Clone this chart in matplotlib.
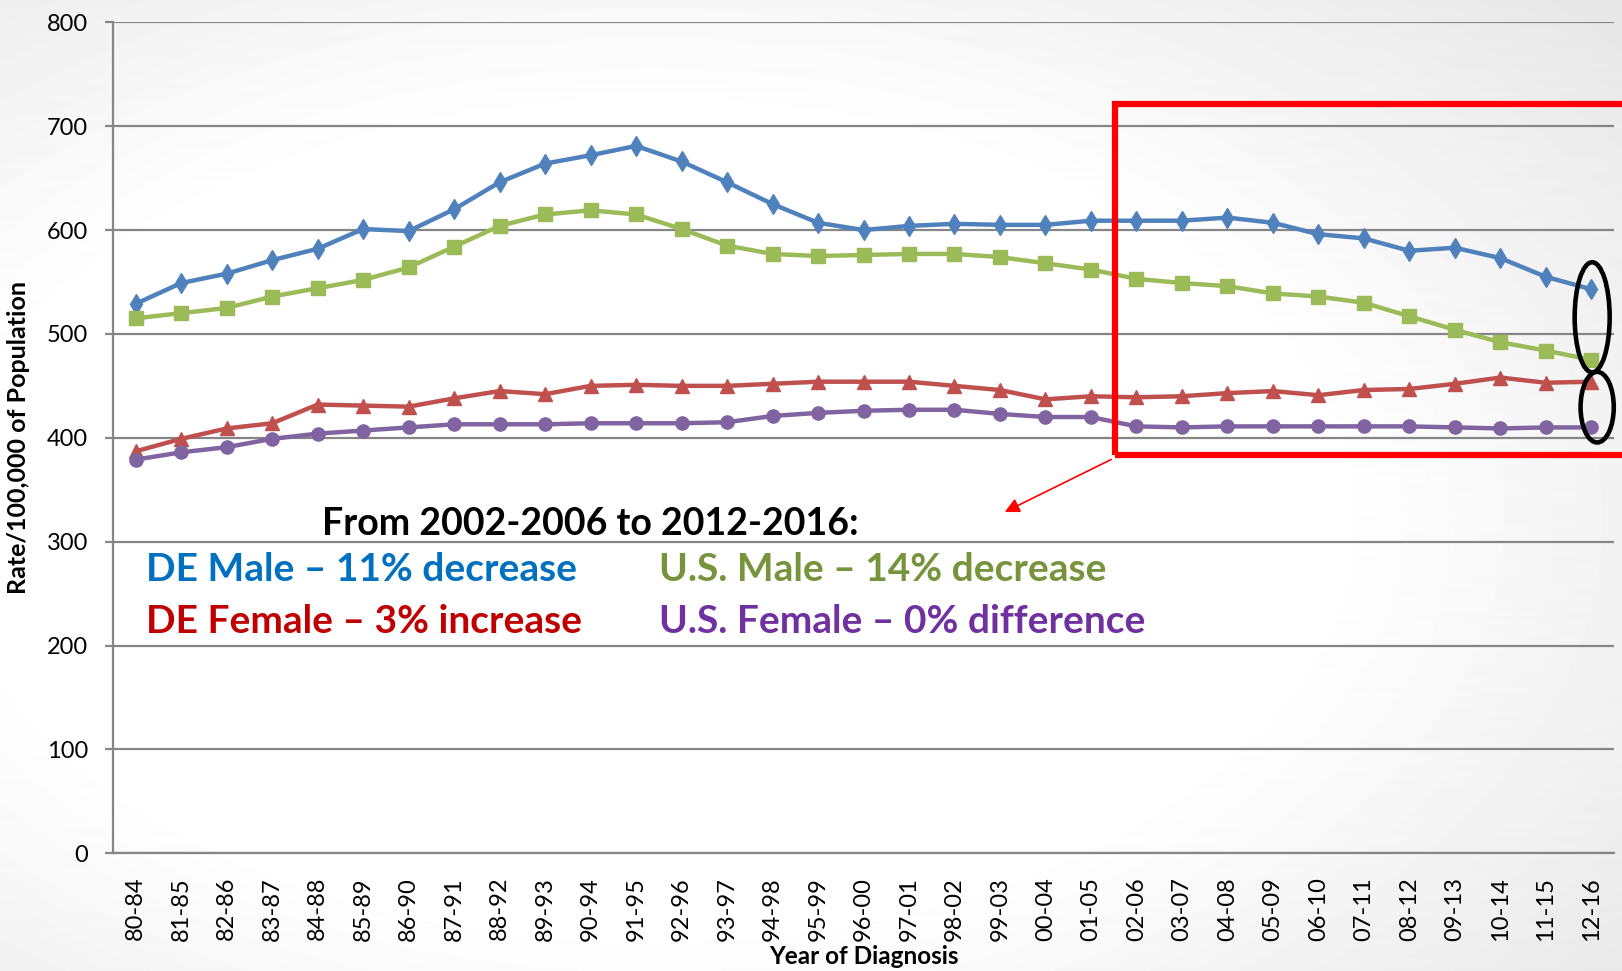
import matplotlib.pyplot as plt
import numpy as np
from matplotlib.patches import Rectangle, Ellipse

periods = ["80-84", "81-85", "82-86", "83-87", "84-88", "85-89", "86-90",
           "87-91", "88-92", "89-93", "90-94", "91-95", "92-96", "93-97",
           "94-98", "95-99", "96-00", "97-01", "98-02", "99-03", "00-04",
           "01-05", "02-06", "03-07", "04-08", "05-09", "06-10", "07-11",
           "08-12", "09-13", "10-14", "11-15", "12-16"]

de_male = [529, 549, 558, 571, 582, 601, 599, 620, 646, 664, 672, 681, 666,
           646, 625, 607, 600, 604, 606, 605, 605, 609, 609, 609, 612, 607,
           596, 592, 580, 583, 573, 555, 543]
us_male = [515, 520, 525, 536, 544, 552, 564, 584, 604, 615, 619, 615, 601,
           585, 577, 575, 576, 577, 577, 574, 568, 562, 553, 549, 546, 539,
           536, 530, 517, 504, 492, 484, 475]
de_female = [387, 399, 409, 414, 432, 431, 430, 438, 445, 442, 450, 451, 450,
             450, 452, 454, 454, 454, 450, 446, 437, 440, 439, 440, 443, 445,
             441, 446, 447, 452, 458, 453, 454]
us_female = [379, 386, 391, 399, 404, 407, 410, 413, 413, 413, 414, 414, 414,
             415, 421, 424, 426, 427, 427, 423, 420, 420, 411, 410, 411, 411,
             411, 411, 411, 410, 409, 410, 410]

notes = [("DE Male \u2013 11% decrease", "#0070C0"),
         ("DE Female \u2013 3% increase", "#C00000"),
         ("U.S. Male \u2013 14% decrease", "#77933C"),
         ("U.S. Female \u2013 0% difference", "#7030A0")]

plt.rcParams["font.family"] = ["Lato", "DejaVu Sans"]

W, H = 1622, 971
fig = plt.figure(figsize=(W / 100, H / 100), dpi=100)

# slide background: soft radial grey gradient
bg = fig.add_axes([0, 0, 1, 1], zorder=-10)
yy, xx = np.mgrid[0:H, 0:W]
r = np.hypot((xx - 650) / W, (yy - 520) / H)
shade = 1 - 0.09 * np.clip((r - 0.42) / 0.35, 0, 1)
bg.imshow(shade, cmap="gray", vmin=0, vmax=1, aspect="auto",
          extent=[0, 1, 0, 1])
bg.axis("off")

ax = fig.add_axes([113 / W, 1 - 853.3 / H, (1614 - 113) / W, (853.3 - 22.3) / H])
ax.set_facecolor("none")

x = np.arange(len(periods))
ax.plot(x, de_male, color="#4F81BD", lw=3.2, marker="d", ms=10.5, zorder=5)
ax.plot(x, us_male, color="#9BBB59", lw=3.2, marker="s", ms=9.5, zorder=5)
ax.plot(x, de_female, color="#C0504D", lw=3.2, marker="^", ms=9.5, zorder=5)
ax.plot(x, us_female, color="#8064A2", lw=3.2, marker="o", ms=9.5, zorder=5)

ax.set_xlim(-0.5, len(periods) - 0.5)
ax.set_ylim(0, 800)
ax.set_yticks(range(0, 801, 100))
ax.set_xticks(x)
ax.set_xticklabels(periods, rotation=90)
ax.grid(axis="y", color="#868686", lw=1.6)
ax.set_axisbelow(True)
for s in ["top", "right"]:
    ax.spines[s].set_visible(False)
for s in ["left", "bottom"]:
    ax.spines[s].set_color("#868686")
    ax.spines[s].set_linewidth(1.6)
ax.tick_params(axis="y", length=6, color="#868686", width=1.6, pad=12,
               labelsize=17)
ax.tick_params(axis="x", length=0, pad=17, labelsize=17)

ax.set_ylabel("Rate/100,000 of Population", fontsize=18, fontweight="bold",
              labelpad=12)
ax.set_xlabel("Year of Diagnosis", fontsize=17.5, fontweight="bold",
              labelpad=3)

# annotations
ax.add_patch(Rectangle((21.54, 383.4), 13, 338.4, fill=False, ec="#FF0000",
                       lw=4.5, clip_on=False, zorder=6))
ax.add_patch(Ellipse((32.02, 516), 0.77, 106, fill=False, ec="black",
                     lw=3.3, clip_on=False, zorder=7))
ax.add_patch(Ellipse((32.13, 429.5), 0.73, 68, fill=False, ec="black",
                     lw=3.3, clip_on=False, zorder=7))
ax.annotate("", xy=(19.05, 327.4), xytext=(21.5, 380.3),
            arrowprops=dict(arrowstyle="-|>", color="#FF0000", lw=1.2,
                            mutation_scale=22))

ax.text(4.09, 306, "From 2002-2006 to 2012-2016:", fontsize=27,
        fontweight="bold", va="baseline", color="black")
pos = [(0.22, 262), (0.22, 212), (11.5, 262), (11.5, 212)]
for (txt, col), (px, py) in zip(notes, pos):
    ax.text(px, py, txt, fontsize=28, fontweight="bold", color=col,
            va="baseline")

fig.savefig("out.png", dpi=100)
